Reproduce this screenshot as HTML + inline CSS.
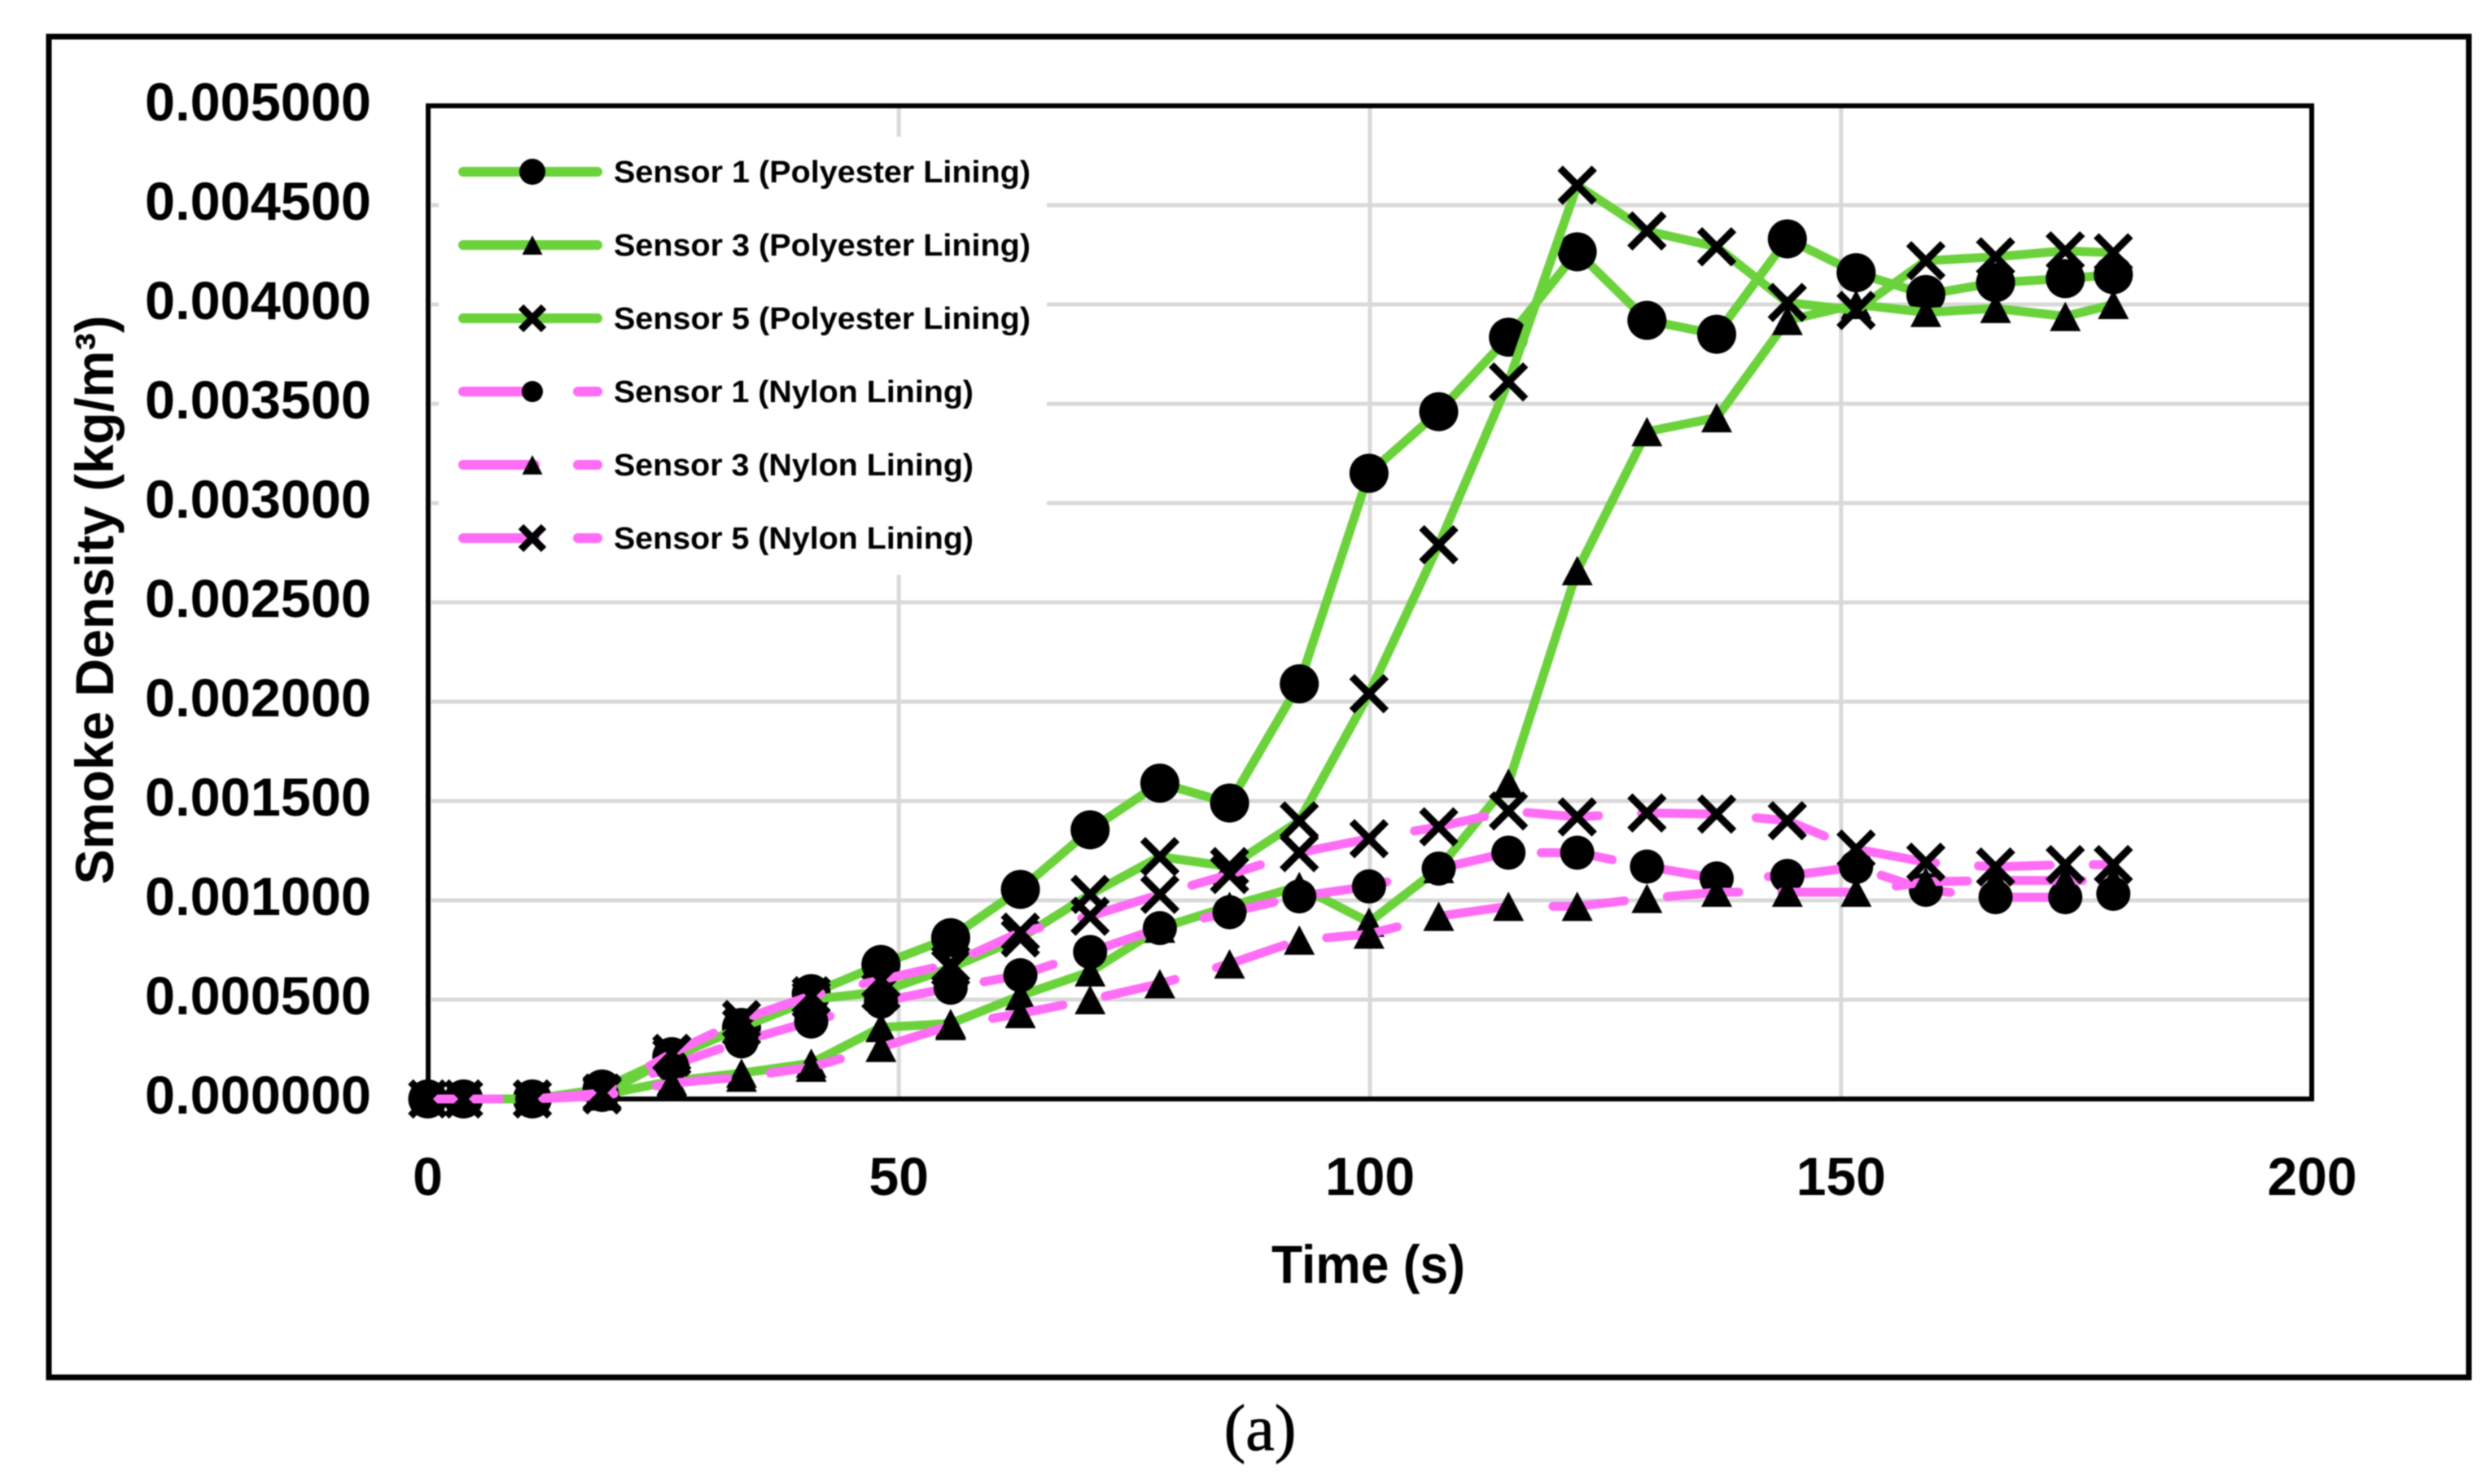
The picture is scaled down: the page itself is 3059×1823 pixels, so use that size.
<!DOCTYPE html>
<html lang="en">
<head>
<meta charset="utf-8">
<title>Smoke Density vs Time</title>
<style>
html,body{margin:0;padding:0;background:#fff;}
body{width:3059px;height:1823px;overflow:hidden;}
svg{display:block;filter:blur(0.7px);}
text{font-family:"Liberation Sans",sans-serif;font-weight:bold;fill:#000;}
</style>
</head>
<body>
<svg id="chart" xmlns="http://www.w3.org/2000/svg" width="3059" height="1823" viewBox="0 0 3059 1823">
  <rect x="0" y="0" width="3059" height="1823" fill="#fff"/>
  <rect x="60" y="45" width="2973" height="1647" fill="none" stroke="#000" stroke-width="7"/>
  <g id="grid"></g>
  <rect x="539" y="168" width="747" height="538" fill="#fff"/>
  <rect x="526" y="130" width="2314" height="1220" fill="none" stroke="#000" stroke-width="6"/>
  <g id="yticks"></g>
  <g id="xticks"></g>
  <text transform="translate(139 737) rotate(-90)" text-anchor="middle" font-size="66" textLength="699" lengthAdjust="spacingAndGlyphs">Smoke Density (kg/m³)</text>
  <text x="1681" y="1576" text-anchor="middle" font-size="66" textLength="238" lengthAdjust="spacingAndGlyphs">Time (s)</text>
  <g id="series"></g>
  <g id="legend"></g>
  <text x="1548" y="1781" text-anchor="middle" font-size="80" stroke="#000" stroke-width="0.8" style="font-family:'Liberation Serif',serif;font-weight:normal">(a)</text>
</svg>
<script>
var times = [0,3.8,11.1,18.5,25.9,33.3,40.7,48.1,55.5,62.9,70.3,77.7,85.1,92.5,99.9,107.3,114.7,122.0,129.4,136.8,144.3,151.6,159.0,166.4,173.8,178.9];
var polyS1 = [0,0,0,50,213,360,530,677,812,1055,1355,1590,1490,2090,3150,3460,3835,4265,3920,3850,4330,4160,4050,4110,4130,4150];
var polyS3 = [0,0,0,20,90,130,180,360,380,520,640,860,970,1070,890,1160,1590,2660,3360,3430,3920,4000,3960,3980,3940,4000];
var polyS5 = [0,0,0,20,210,360,500,540,660,810,1030,1220,1170,1400,2040,2790,3610,4600,4370,4290,4010,3970,4220,4240,4270,4260];
var nylonS1 = [0,0,0,20,170,290,390,490,560,623,740,860,940,1020,1070,1160,1240,1240,1170,1110,1123,1168,1053,1016,1016,1033];
var nylonS3 = [0,0,0,15,80,110,160,260,370,430,500,580,680,800,830,920,970,970,1010,1041,1041,1041,1094,1100,1100,1100];
var nylonS5 = [0,0,0,30,230,400,520,600,680,840,920,1030,1130,1240,1310,1370,1450,1420,1440,1434,1401,1258,1192,1168,1180,1180];

var yTickValues = [0,500,1000,1500,2000,2500,3000,3500,4000,4500,5000];
var yTickLabels = ["0.000000","0.000500","0.001000","0.001500","0.002000","0.002500","0.003000","0.003500","0.004000","0.004500","0.005000"];
var xTickValues = [0,50,100,150,200];
var xTickLabels = ["0","50","100","150","200"];

var legendLabels = ["Sensor 1 (Polyester Lining)","Sensor 3 (Polyester Lining)","Sensor 5 (Polyester Lining)","Sensor 1 (Nylon Lining)","Sensor 3 (Nylon Lining)","Sensor 5 (Nylon Lining)"];
var seriesNames = ["polyester-sensor-1","polyester-sensor-3","polyester-sensor-5","nylon-sensor-1","nylon-sensor-3","nylon-sensor-5"];
var seriesValues = [polyS1,polyS3,polyS5,nylonS1,nylonS3,nylonS5];
var seriesMarkers = ["circle","triangle","x","circle","triangle","x"];

var NS = "http://www.w3.org/2000/svg";
var GREEN = "#6bd23c", PINK = "#ff6cf6", DASH = "88 53";
function sx(t){ return 525.5 + t * 11.575; }
function sy(v){ return 1350 - v * 0.244; }
function make(tag, parent, attrs){
  var el = document.createElementNS(NS, tag);
  for (var k in attrs) el.setAttribute(k, attrs[k]);
  parent.appendChild(el);
  return el;
}
function drawMarker(parent, kind, cx, cy, r){
  var m;
  if (kind === "circle") {
    m = make("circle", parent, {cx: cx, cy: cy, r: r, fill: "#000"});
  } else if (kind === "triangle") {
    var w = r, pts = (cx - w) + "," + (cy + w * 0.95) + " " + (cx + w) + "," + (cy + w * 0.95) + " " + cx + "," + (cy - w * 0.95);
    m = make("polygon", parent, {points: pts, fill: "#000"});
  } else {
    var d = "M" + (cx - r) + " " + (cy - r) + "L" + (cx + r) + " " + (cy + r) + "M" + (cx + r) + " " + (cy - r) + "L" + (cx - r) + " " + (cy + r);
    m = make("path", parent, {d: d, fill: "none", stroke: "#000", "stroke-width": 9});
  }
  return m;
}

var gridG = document.getElementById("grid");
yTickValues.forEach(function(v, i){
  if (v === 0 || v === 5000) return;
  var l = make("line", gridG, {x1: 530, x2: 2837, y1: sy(v), y2: sy(v), stroke: "#d9d9d9", "stroke-width": 5});
  
  
});
xTickValues.forEach(function(v, i){
  if (v === 0 || v === 200) return;
  var l = make("line", gridG, {x1: sx(v), x2: sx(v), y1: 133, y2: 1347, stroke: "#d9d9d9", "stroke-width": 5});
  
  
});

var yG = document.getElementById("yticks");
yTickValues.forEach(function(v, i){
  var t = make("text", yG, {x: 456, y: sy(v) + 18, "text-anchor": "end", "font-size": 66, textLength: 278, lengthAdjust: "spacingAndGlyphs"});
  t.textContent = yTickLabels[i];
  
  
});
var xG = document.getElementById("xticks");
xTickValues.forEach(function(v, i){
  var t = make("text", xG, {x: sx(v), y: 1468, "text-anchor": "middle", "font-size": 66});
  t.textContent = xTickLabels[i];
  
  
});

var seriesG = document.getElementById("series");
seriesValues.forEach(function(vals, s){
  var nylon = s >= 3;
  var g = make("g", seriesG, {});
  
  
  var pts = vals.map(function(v, i){ return sx(times[i]) + "," + sy(v); }).join(" ");
  var attrs = {points: pts, fill: "none", stroke: nylon ? PINK : GREEN, "stroke-width": 11, "stroke-linecap": "round", "stroke-linejoin": "round"};
  if (nylon) attrs["stroke-dasharray"] = DASH;
  var line = make("polyline", g, attrs);
  
  
  var kind = seriesMarkers[s];
  var r = kind === "circle" ? (nylon ? 21 : 24) : kind === "triangle" ? 19 : 21;
  vals.forEach(function(v, i){
    var m = drawMarker(g, kind, sx(times[i]), sy(v), r);
    
    
  });
});

var legendG = document.getElementById("legend");
legendLabels.forEach(function(label, i){
  var rowY = 211 + i * 90;
  var nylon = i >= 3;
  var row = make("g", legendG, {});
  
  
  var attrs = {x1: 569, x2: 734, y1: rowY, y2: rowY, stroke: nylon ? PINK : GREEN, "stroke-width": 12, "stroke-linecap": "round"};
  if (nylon) attrs["stroke-dasharray"] = DASH;
  var sw = make("line", row, attrs);
  
  
  var kind = seriesMarkers[i];
  var r = kind === "circle" ? (nylon ? 13 : 16) : kind === "triangle" ? 12.5 : 14;
  var mk = drawMarker(row, kind, 654, rowY, r);
  
  
  var t = make("text", row, {x: 754, y: rowY + 13, "font-size": 38, textLength: nylon ? 442 : 512, lengthAdjust: "spacingAndGlyphs"});
  t.textContent = label;
  
  
});
</script>
</body>
</html>
